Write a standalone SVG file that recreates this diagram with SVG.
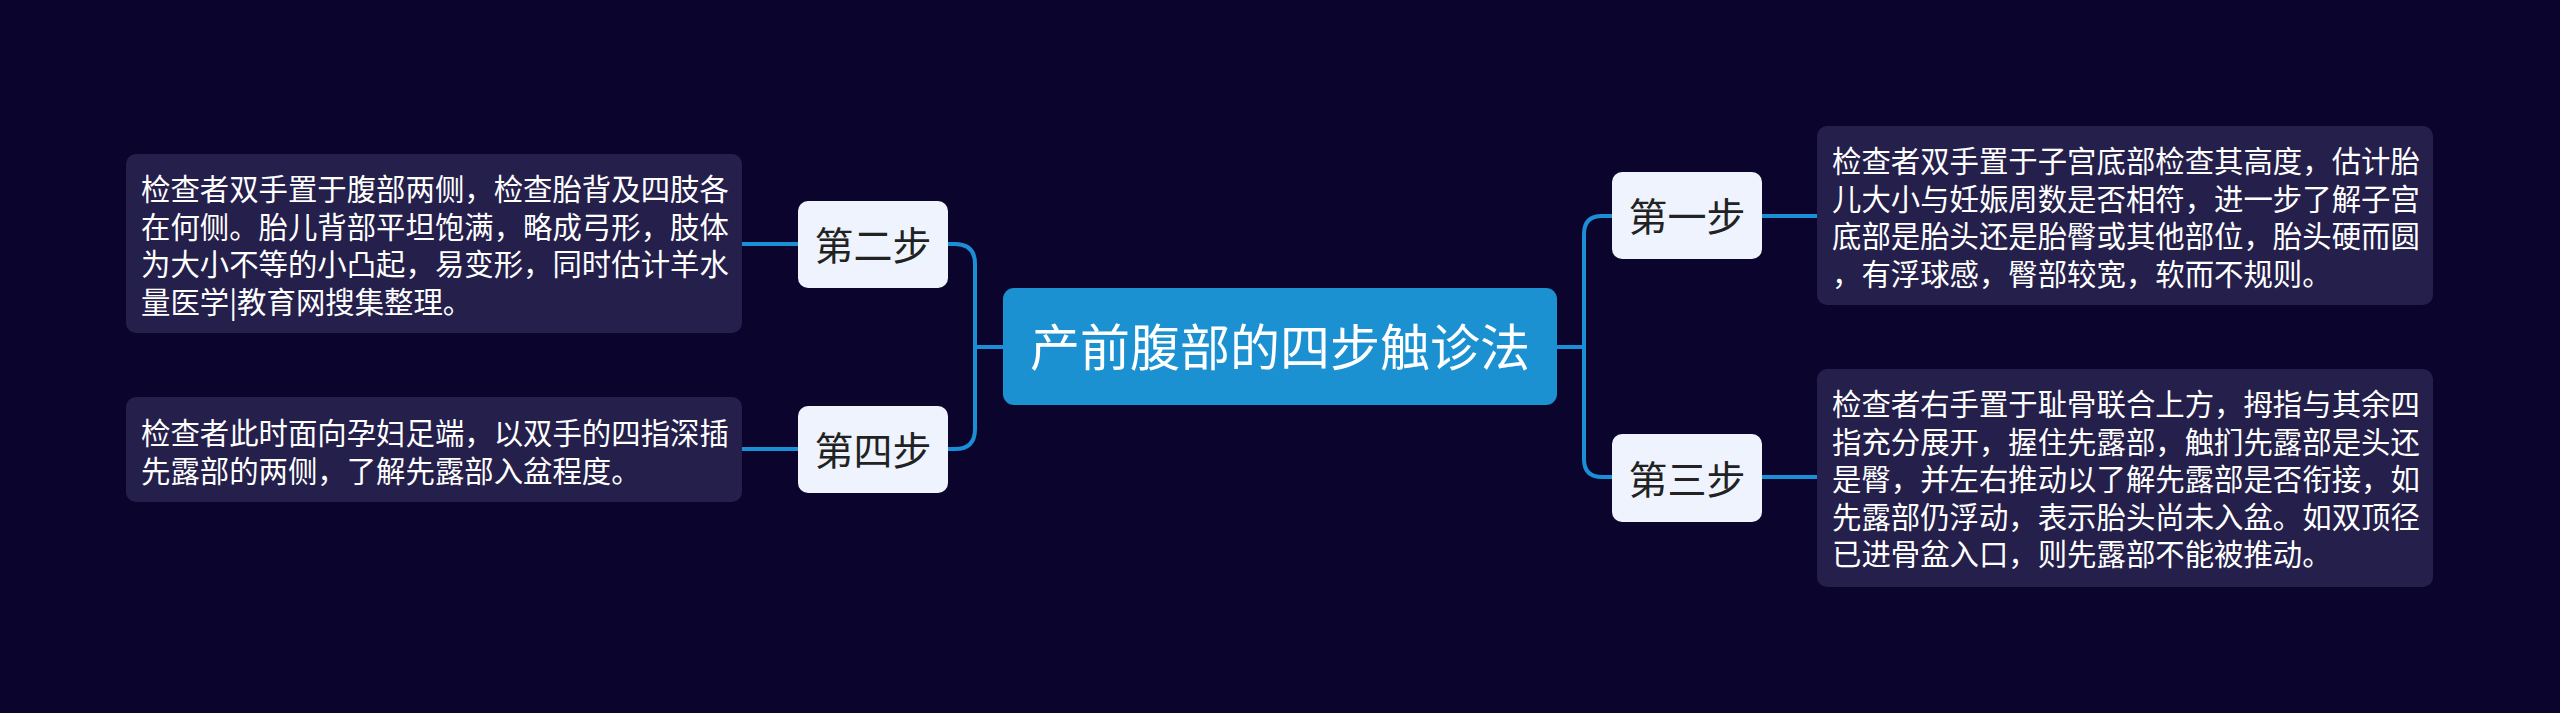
<svg xmlns="http://www.w3.org/2000/svg" width="2560" height="713" viewBox="0 0 2560 713">
<style>
.desc{fill:#251f4b;}
.dt{font-family:"Noto Sans CJK SC","Noto Sans",sans-serif;font-size:29.4px;fill:#ffffff;}
.step{fill:#eef3fd;}
.st{font-family:"Noto Sans CJK SC","Noto Sans",sans-serif;font-size:39px;fill:#222222;text-anchor:middle;}
.ct{font-family:"Noto Sans CJK SC","Noto Sans",sans-serif;font-size:50px;fill:#ffffff;text-anchor:middle;}
.ln{fill:none;stroke:#1a8fd6;stroke-width:4;stroke-linecap:round;}
</style>
<rect x="0" y="0" width="2560" height="713" fill="#0b052d"/>
<g id="connectors">
<path class="ln" d="M1003 347 H975"/>
<path class="ln" d="M948 244 H955 Q975 244 975 264 V429 Q975 449 955 449 H948"/>
<path class="ln" d="M1557 347 H1584"/>
<path class="ln" d="M1612 216 H1602 Q1584 216 1584 234 V459 Q1584 477 1602 477 H1612"/>
<path class="ln" d="M742 244 H798"/>
<path class="ln" d="M742 449 H798"/>
<path class="ln" d="M1762 216 H1817"/>
<path class="ln" d="M1762 477 H1817"/>
</g>
<g id="center">
<rect x="1003" y="288" width="554" height="117" rx="11" fill="#1b91d2"/>
<text class="ct" x="1280" y="366">产前腹部的四步触诊法</text>
</g>
<g id="step2">
<rect class="step" x="798" y="201" width="150" height="87" rx="10"/>
<text class="st" x="873" y="260">第二步</text>
</g>
<g id="step4">
<rect class="step" x="798" y="406" width="150" height="87" rx="10"/>
<text class="st" x="873" y="465">第四步</text>
</g>
<g id="step1">
<rect class="step" x="1612" y="172" width="150" height="87" rx="10"/>
<text class="st" x="1687" y="231">第一步</text>
</g>
<g id="step3">
<rect class="step" x="1612" y="434" width="150" height="88" rx="10"/>
<text class="st" x="1687" y="494">第三步</text>
</g>
<g id="desc2">
<rect class="desc" x="126" y="154" width="616" height="179" rx="10"/>
<text class="dt" x="141" y="200">检查者双手置于腹部两侧，检查胎背及四肢各</text>
<text class="dt" x="141" y="237.5">在何侧。胎儿背部平坦饱满，略成弓形，肢体</text>
<text class="dt" x="141" y="275">为大小不等的小凸起，易变形，同时估计羊水</text>
<text class="dt" x="141" y="312.5">量医学|教育网搜集整理。</text>
</g>
<g id="desc4">
<rect class="desc" x="126" y="397" width="616" height="105" rx="10"/>
<text class="dt" x="141" y="444">检查者此时面向孕妇足端，以双手的四指深插</text>
<text class="dt" x="141" y="481.5">先露部的两侧，了解先露部入盆程度。</text>
</g>
<g id="desc1">
<rect class="desc" x="1817" y="126" width="616" height="179" rx="10"/>
<text class="dt" x="1832" y="172">检查者双手置于子宫底部检查其高度，估计胎</text>
<text class="dt" x="1832" y="209.5">儿大小与妊娠周数是否相符，进一步了解子宫</text>
<text class="dt" x="1832" y="247">底部是胎头还是胎臀或其他部位，胎头硬而圆</text>
<text class="dt" x="1832" y="284.5">，有浮球感，臀部较宽，软而不规则。</text>
</g>
<g id="desc3">
<rect class="desc" x="1817" y="369" width="616" height="218" rx="10"/>
<text class="dt" x="1832" y="415">检查者右手置于耻骨联合上方，拇指与其余四</text>
<text class="dt" x="1832" y="452.5">指充分展开，握住先露部，触扪先露部是头还</text>
<text class="dt" x="1832" y="490">是臀，并左右推动以了解先露部是否衔接，如</text>
<text class="dt" x="1832" y="527.5">先露部仍浮动，表示胎头尚未入盆。如双顶径</text>
<text class="dt" x="1832" y="565">已进骨盆入口，则先露部不能被推动。</text>
</g>
</svg>
